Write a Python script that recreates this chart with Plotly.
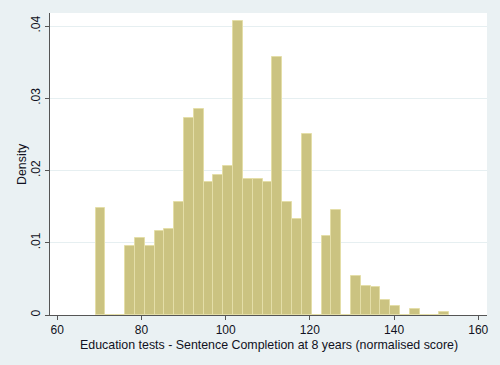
import plotly.graph_objects as go

bin_start = 69.1
bin_width = 2.3333
densities = [0.0148, 0, 0, 0.0096, 0.01066, 0.0095, 0.01163, 0.01195, 0.0156,
             0.02722, 0.02851, 0.01836, 0.01938, 0.02058, 0.0407, 0.01882,
             0.01882, 0.01845, 0.03566, 0.0156, 0.01329, 0.02501, 0,
             0.01089, 0.01453, 0, 0.0054, 0.00401, 0.00392, 0.00208, 0.0012,
             0, 0.00083, 0, 0, 0.00037]
centers = [bin_start + bin_width * (i + 0.5) for i in range(len(densities))]

x_ticks = [60, 80, 100, 120, 140, 160]
y_ticks = [0, 0.01, 0.02, 0.03, 0.04]
y_tick_text = ["0", ".01", ".02", ".03", ".04"]
x_title = "Education tests - Sentence Completion at 8 years (normalised score)"
y_title = "Density"

fig = go.Figure(go.Bar(
    x=centers, y=densities, width=[bin_width] * len(densities),
    marker=dict(color="#cbc381", line=dict(color="#e4dea8", width=1)),
    hoverinfo="skip",
))

font = dict(family="Liberation Sans, Arial, sans-serif", size=12, color="#111122")
fig.update_layout(
    width=500, height=365,
    paper_bgcolor="#eaf1f3", plot_bgcolor="#ffffff",
    margin=dict(l=50, r=13, t=13, b=50),
    font=font, showlegend=False, bargap=0,
    xaxis=dict(range=[58.27, 162.07], tickvals=x_ticks, showgrid=False,
               showline=True, linecolor="#555555", linewidth=1,
               ticks="outside", ticklen=4, tickcolor="#555555",
               zeroline=False),
    yaxis=dict(range=[0, 0.0418], tickvals=y_ticks, ticktext=y_tick_text,
               tickangle=-90, showgrid=True, gridcolor="#e6eff1", gridwidth=1,
               showline=True, linecolor="#555555", linewidth=1,
               ticks="outside", ticklen=4, tickcolor="#555555",
               zeroline=False),
    annotations=[
        dict(text=x_title, xref="paper", yref="paper", x=0.5, y=-0.099,
             xanchor="center", yanchor="middle", showarrow=False,
             font=dict(family=font["family"], size=12.4, color=font["color"])),
        dict(text=y_title, xref="paper", yref="paper", x=-0.064, y=0.5,
             xanchor="center", yanchor="middle", textangle=-90, showarrow=False,
             font=dict(family=font["family"], size=12.4, color=font["color"])),
    ],
)

fig.write_html("out.html", config={"displayModeBar": False},
               post_script="document.body.style.margin='0';document.body.style.background='#eaf1f3';")
